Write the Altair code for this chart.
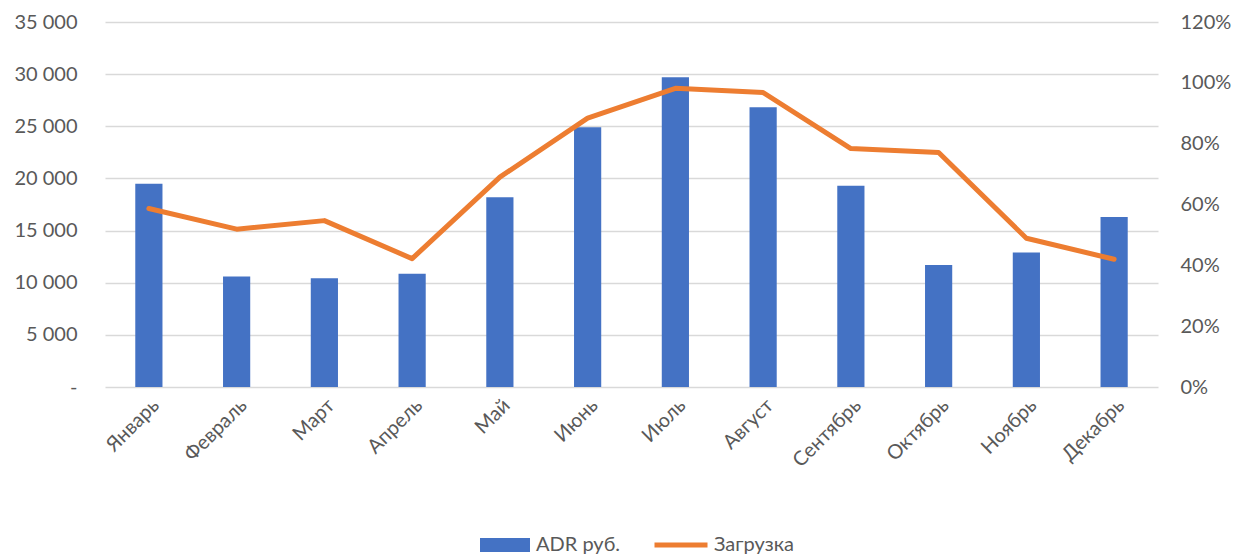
import altair as alt
import pandas as pd

# Monthly ADR (rubles) and occupancy
months = ["Январь", "Февраль", "Март", "Апрель", "Май", "Июнь",
          "Июль", "Август", "Сентябрь", "Октябрь", "Ноябрь", "Декабрь"]
adr = [19480, 10600, 10440, 10850, 18200, 24910,
       29700, 26830, 19290, 11690, 12900, 16290]
occupancy = [0.587, 0.519, 0.547, 0.422, 0.690, 0.884,
             0.982, 0.968, 0.784, 0.771, 0.489, 0.420]

bar_name = "ADR руб."
line_name = "Загрузка"

df = pd.DataFrame({
    "month": months,
    "adr": adr,
    "occ": occupancy,
    "bar_series": [bar_name] * len(months),
    "line_series": [line_name] * len(months),
})

FONT = "Lato"
TEXT = "#595959"
GRID = "#d9d9d9"
BLUE = "#4472C4"
ORANGE = "#ED7D31"

x = alt.X(
    "month:N",
    sort=months,
    title=None,
    scale=alt.Scale(paddingInner=0.69, paddingOuter=0.345),
    axis=alt.Axis(labelAngle=-45, labelFont=FONT, labelFontSize=20,
                  labelColor=TEXT, ticks=False, domain=False, grid=False,
                  labelPadding=8),
)

bars = alt.Chart(df).mark_bar().encode(
    x=x,
    y=alt.Y(
        "adr:Q",
        title=None,
        scale=alt.Scale(domain=[0, 35000], nice=False),
        axis=alt.Axis(
            values=[0, 5000, 10000, 15000, 20000, 25000, 30000, 35000],
            labelExpr="datum.value == 0 ? '-\u2007\u2007' : replace(format(datum.value, ','), ',', ' ')",
            labelFont=FONT, labelFontSize=20, labelColor=TEXT,
            ticks=False, domain=False, grid=True,
            gridColor=GRID, gridWidth=1.5, labelPadding=28,
        ),
    ),
    fill=alt.Fill(
        "bar_series:N",
        scale=alt.Scale(domain=[bar_name], range=[BLUE]),
        legend=alt.Legend(
            title=None, orient="none", legendX=375, legendY=498,
            symbolType="M-1,-0.28H1V0.28H-1Z", symbolSize=2500,
            symbolStrokeWidth=0, labelFont=FONT, labelFontSize=20,
            labelColor=TEXT, labelOffset=6, padding=0,
        ),
    ),
)

line = alt.Chart(df).mark_line(strokeWidth=5, strokeCap="round",
                               strokeJoin="round").encode(
    x=x,
    y=alt.Y(
        "occ:Q",
        title=None,
        scale=alt.Scale(domain=[0, 1.2], nice=False),
        axis=alt.Axis(
            orient="right", format=".0%",
            values=[0, 0.2, 0.4, 0.6, 0.8, 1.0, 1.2],
            labelFont=FONT, labelFontSize=20, labelColor=TEXT,
            ticks=False, domain=False, grid=False, labelPadding=22,
        ),
    ),
    stroke=alt.Stroke(
        "line_series:N",
        scale=alt.Scale(domain=[line_name], range=[ORANGE]),
        legend=alt.Legend(
            title=None, orient="none", legendX=547, legendY=494,
            symbolType="stroke", symbolSize=2809, symbolStrokeWidth=5,
            labelFont=FONT, labelFontSize=20, labelColor=TEXT,
            labelOffset=4, padding=0,
        ),
    ),
)

chart = (
    alt.layer(bars, line)
    .resolve_scale(y="independent", fill="independent", stroke="independent")
    .properties(
        width=1053,
        height=365,
        autosize=alt.AutoSizeParams(type="none"),
        padding={"left": 105, "top": 22, "right": 77, "bottom": 169},
        background="white",
    )
    .configure_view(stroke=None)
)

chart.save("out.html", embed_options={"renderer": "svg", "actions": False})
